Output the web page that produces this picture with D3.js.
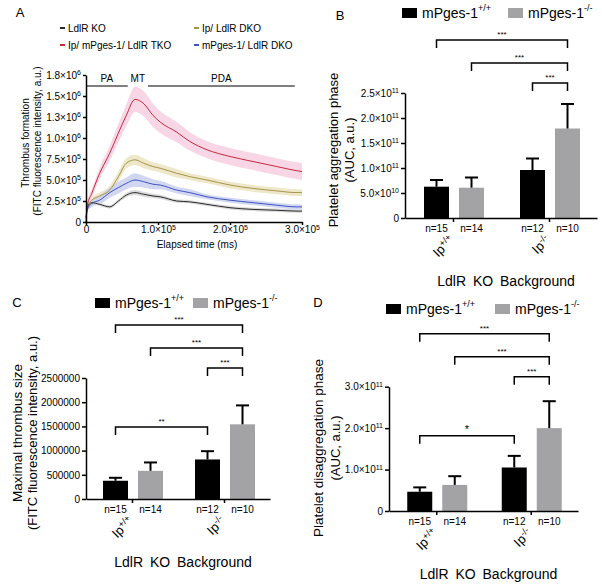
<!DOCTYPE html>
<html><head><meta charset="utf-8">
<script src="https://cdn.jsdelivr.net/npm/d3@7"></script>
<style>
body{margin:0;background:#fff}
svg{display:block;font-family:"Liberation Sans",Arial,sans-serif}
</style></head><body>
<svg id="chart" width="602" height="587"></svg>
<script>
// ================= DATA =================
// Panel A: thrombus formation time course (mean and SEM band), time in ms
const timeMs      = [0, 2000, 8000, 19000, 33000, 45000, 56000, 68000, 80000, 93000, 103000, 126000, 144000, 168000, 200000, 232000, 265000, 293000, 300000];
const ldlrKO      = [0, 1.8e5, 2.3e5, 2.1e5, 1.8e5, 2.5e5, 3.2e5, 3.5e5, 3.3e5, 3.1e5, 3.0e5, 2.5e5, 2.4e5, 2.1e5, 1.7e5, 1.5e5, 1.4e5, 1.3e5, 1.3e5];
const ldlrKOErr   = [1e4, 2e4, 2e4, 2e4, 2e4, 2e4, 2.5e4, 3e4, 3e4, 2.5e4, 2.5e4, 2e4, 2e4, 2e4, 2e4, 2e4, 2e4, 2e4, 2e4];
const ipDKO       = [5e4, 1.8e5, 2.6e5, 3.1e5, 3.8e5, 5.4e5, 7.0e5, 7.4e5, 7.0e5, 6.6e5, 6.4e5, 5.8e5, 5.4e5, 5.0e5, 4.4e5, 4.0e5, 3.7e5, 3.5e5, 3.5e5];
const ipDKOErr    = [1e4, 2e4, 3e4, 4e4, 5e4, 6e4, 6e4, 6e4, 6e4, 5e4, 5e4, 5e4, 4e4, 4e4, 4e4, 4e4, 4e4, 4e4, 4e4];
const mpgesDKO    = [5e4, 1.5e5, 2.2e5, 2.6e5, 3.5e5, 4.1e5, 4.6e5, 5.0e5, 4.8e5, 4.5e5, 4.4e5, 3.8e5, 3.5e5, 3.0e5, 2.6e5, 2.3e5, 2.0e5, 1.8e5, 1.8e5];
const mpgesDKOErr = [1e4, 2e4, 4e4, 5e4, 6e4, 7e4, 7e4, 8e4, 7e4, 6e4, 5e4, 4e4, 4e4, 3e4, 3e4, 3e4, 3e4, 3e4, 3e4];
const tko         = [5e4, 2.0e5, 3.4e5, 5.8e5, 8.2e5, 1.06e6, 1.27e6, 1.46e6, 1.41e6, 1.27e6, 1.19e6, 1.07e6, 9.6e5, 8.6e5, 7.8e5, 7.2e5, 6.6e5, 6.1e5, 6.0e5];
const tkoErr      = [2e4, 4e4, 5e4, 7e4, 9e4, 1.1e5, 1.3e5, 1.5e5, 1.5e5, 1.4e5, 1.3e5, 1.2e5, 1.1e5, 1.0e5, 1.0e5, 1.0e5, 1.0e5, 1.0e5, 1.0e5];
const seriesNamesA = ["LdlR KO", "Ip/ mPges-1/ LdlR TKO", "Ip/ LdlR DKO", "mPges-1/ LdlR DKO"];
const yTicksA  = [0, 2.5e5, 5e5, 7.5e5, 1e6, 1.25e6, 1.5e6, 1.75e6];
const yLabelsA = [["0"], ["2.5","5"], ["5.0","5"], ["7.5","5"], ["1.0","6"], ["1.3","6"], ["1.5","6"], ["1.8","6"]];
const xTicksA  = [0, 1e5, 2e5, 3e5];
const xLabelsA = [["0"], ["1.0","5"], ["2.0","5"], ["3.0","5"]];
const phaseNames = ["PA", "MT", "PDA"];
const phaseStart = [0, 72000, 86000];
const phaseEnd   = [58000, 72000, 290000];

// Bar panels (order: Ip+/+ mPges+/+, Ip+/+ mPges-/-, Ip-/- mPges+/+, Ip-/- mPges-/-)
const ipGroups   = ["+/+", "-/-"];
const mpgesKeys  = ["+/+", "-/-"];
const nLabels    = ["n=15", "n=14", "n=12", "n=10"];
const aggMean    = [6.26e10, 6.06e10, 9.6e10, 1.79e11];
const aggSem     = [1.34e10, 2.04e10, 2.3e10, 4.9e10];
const maxMean    = [3.77e5, 5.82e5, 8.17e5, 1.543e6];
const maxSem     = [6.1e4, 1.73e5, 1.71e5, 3.91e5];
const disMean    = [4.65e10, 6.3e10, 1.05e11, 2.0e11];
const disSem     = [1.05e10, 2.1e10, 2.8e10, 6.5e10];
const yTicksB  = [0, 5e10, 1e11, 1.5e11, 2e11, 2.5e11];
const yLabelsB = [["0"], ["5.0","10"], ["1.0","11"], ["1.5","11"], ["2.0","11"], ["2.5","11"]];
const yTicksC  = [0, 5e5, 1e6, 1.5e6, 2e6, 2.5e6];
const yLabelsC = [["0"], ["500000"], ["1000000"], ["1500000"], ["2000000"], ["2500000"]];
const yTicksD  = [0, 1e11, 2e11, 3e11];
const yLabelsD = [["0"], ["1.0","11"], ["2.0","11"], ["3.0","11"]];
// significance: [from bar, to bar, label, level]
const sigB = [[0,3,"***",0],[1,3,"***",1],[2,3,"***",2]];
const sigC = [[0,3,"***",0],[1,3,"***",1],[2,3,"***",2],[0,2,"**",3]];
const sigD = [[0,3,"***",0],[1,3,"***",1],[2,3,"***",2],[0,2,"*",3]];

// ================= DRAWING =================
const svg = d3.select("#chart");
svg.append("rect").attr("width",602).attr("height",587).attr("fill","#fff");
const FONT = '"Liberation Sans", Arial, sans-serif';

function sciText(sel, parts, supSize) {
  sel.text(null);
  if (parts.length === 1) { sel.append("tspan").text(parts[0]); return; }
  sel.append("tspan").text(parts[0] + "\u00d710");
  sel.append("tspan").attr("dy","-0.5em").attr("font-size", supSize).text(parts[1]);
}
function styleAxis(g, w) {
  g.select(".domain").attr("stroke","#000").attr("stroke-width", w);
  g.selectAll(".tick line").attr("stroke","#000").attr("stroke-width", w);
  g.selectAll(".tick text").attr("fill","#000").attr("font-family", FONT);
}
function letter(t, x, y) {
  svg.append("text").attr("x",x).attr("y",y).attr("font-size",13).attr("text-anchor","middle")
    .attr("dominant-baseline","central").text(t);
}

// ---------- Panel A ----------
(function(){
  const x = d3.scaleLinear().domain([0,3e5]).range([86,302]);
  const y = d3.scaleLinear().domain([0,1.75e6]).range([222,75]);
  const g = svg.append("g");
  const styles = [
    {line:"#2a2a2a", band:"#d4d4d4"},
    {line:"#c62a3c", band:"#f8cfe0"},
    {line:"#a59548", band:"#ebe3bf"},
    {line:"#3f52bf", band:"#c9d0f1"}
  ];
  const data = [
    {v:ldlrKO, e:ldlrKOErr}, {v:tko, e:tkoErr}, {v:ipDKO, e:ipDKOErr}, {v:mpgesDKO, e:mpgesDKOErr}
  ].map((s,i)=>({name:seriesNamesA[i], pts: timeMs.map((t,j)=>({t, v:s.v[j], e:s.e[j]})), st:styles[i]}));
  const drawOrder = [1,2,3,0];
  const area = d3.area().x(d=>x(d.t)).y0(d=>y(Math.max(0,d.v-d.e))).y1(d=>y(d.v+d.e)).curve(d3.curveMonotoneX);
  const line = d3.line().x(d=>x(d.t)).y(d=>y(d.v)).curve(d3.curveMonotoneX);
  drawOrder.forEach(i=>{
    g.append("path").attr("d", area(data[i].pts)).attr("fill", data[i].st.band).attr("opacity",0.85);
  });
  drawOrder.forEach(i=>{
    g.append("path").attr("d", line(data[i].pts)).attr("fill","none").attr("stroke", data[i].st.line).attr("stroke-width",1);
  });
  // axes
  const ya = g.append("g").attr("transform","translate(86,0)")
    .call(d3.axisLeft(y).tickValues(yTicksA).tickSize(3).tickSizeOuter(0).tickPadding(2));
  styleAxis(ya, 1.5);
  ya.selectAll(".tick text").attr("font-size",10).each(function(d,i){ sciText(d3.select(this), yLabelsA[i], 7); });
  const xa = g.append("g").attr("transform","translate(0,222)")
    .call(d3.axisBottom(x).tickValues(xTicksA).tickSize(3).tickSizeOuter(0).tickPadding(1));
  styleAxis(xa, 1.5);
  xa.selectAll(".tick text").attr("font-size",10).each(function(d,i){ sciText(d3.select(this), xLabelsA[i], 7); });
  // axis titles
  g.append("text").attr("x",197).attr("y",244).attr("font-size",10).attr("text-anchor","middle")
    .attr("dominant-baseline","central").text("Elapsed time (ms)");
  g.append("text").attr("transform","translate(25,143) rotate(-90)").attr("font-size",10)
    .attr("text-anchor","middle").attr("dominant-baseline","central").text("Thrombus formation");
  g.append("text").attr("transform","translate(37,141) rotate(-90)").attr("font-size",10)
    .attr("text-anchor","middle").attr("dominant-baseline","central").text("(FITC fluorescence intensity, a.u.)");
  // phases
  phaseNames.forEach((p,i)=>{
    if (phaseEnd[i] > phaseStart[i]) {
      g.append("line").attr("x1",x(phaseStart[i])).attr("x2",x(phaseEnd[i])).attr("y1",86).attr("y2",86)
        .attr("stroke","#000").attr("stroke-width",1);
    }
    g.append("text").attr("x",(x(phaseStart[i])+x(phaseEnd[i]))/2).attr("y",78).attr("font-size",10)
      .attr("text-anchor","middle").attr("dominant-baseline","central").text(p);
  });
  // legend
  const legPos = [[60,28],[60,45],[194,28],[194,45]];
  data.forEach((s,i)=>{
    g.append("line").attr("x1",legPos[i][0]).attr("x2",legPos[i][0]+5).attr("y1",legPos[i][1]).attr("y2",legPos[i][1])
      .attr("stroke", s.st.line).attr("stroke-width",2);
    g.append("text").attr("x",legPos[i][0]+8).attr("y",legPos[i][1]).attr("font-size",10)
      .attr("dominant-baseline","central").text(s.name);
  });
  letter("A", 20, 12);
})();

// ---------- Bar panels ----------
function barPanel(cfg) {
  const g = svg.append("g");
  const gx = d3.scalePoint().domain(ipGroups).range([cfg.x0, cfg.x1]).padding(0.5);
  const sub = d3.scaleBand().domain(mpgesKeys).range([-30,30]).paddingInner(0.286).paddingOuter(0);
  const y = d3.scaleLinear().domain([0, cfg.yMax]).range([cfg.yBottom, cfg.yTop]);
  const bars = [];
  ipGroups.forEach((ip,gi)=>mpgesKeys.forEach((mk,si)=>{
    const k = gi*2+si;
    bars.push({ip, mk, si, mean:cfg.mean[k], sem:cfg.sem[k], n:nLabels[k], cx: gx(ip)+sub(mk)+sub.bandwidth()/2+1});
  }));
  const fills = ["#000000", "#a3a3a6"];
  g.selectAll("rect.bar").data(bars).join("rect")
    .attr("x", d=>d.cx - sub.bandwidth()/2).attr("width", sub.bandwidth())
    .attr("y", d=>y(d.mean)).attr("height", d=>y(0)-y(d.mean)).attr("fill", d=>fills[d.si]);
  // error bars
  bars.forEach(d=>{
    g.append("line").attr("x1",d.cx).attr("x2",d.cx).attr("y1",y(d.mean)).attr("y2",y(d.mean+d.sem))
      .attr("stroke","#000").attr("stroke-width",2);
    g.append("line").attr("x1",d.cx-6.5).attr("x2",d.cx+6.5).attr("y1",y(d.mean+d.sem)).attr("y2",y(d.mean+d.sem))
      .attr("stroke","#000").attr("stroke-width",2);
  });
  // axes
  const ya = g.append("g").attr("transform",`translate(${cfg.x0},0)`)
    .call(d3.axisLeft(y).tickValues(cfg.ticks).tickSize(4).tickSizeOuter(0).tickPadding(2));
  styleAxis(ya, 1.5);
  ya.selectAll(".tick text").attr("font-size",10).each(function(d,i){ sciText(d3.select(this), cfg.labels[i], 7); });
  const xa = g.append("g").attr("transform",`translate(0,${cfg.yBottom})`)
    .call(d3.axisBottom(gx).tickSize(4).tickSizeOuter(0).tickFormat(""));
  styleAxis(xa, 1.5);
  // n labels
  bars.forEach(d=>{
    g.append("text").attr("x",d.cx).attr("y",cfg.yBottom+10).attr("font-size",10).attr("text-anchor","middle")
      .attr("dominant-baseline","central").text(d.n);
  });
  // rotated genotype labels
  ipGroups.forEach(ip=>{
    const t = g.append("text").attr("transform",`translate(${gx(ip)+2},${cfg.yBottom+23}) rotate(-45)`)
      .attr("font-size",13).attr("text-anchor","end");
    t.append("tspan").text("Ip");
    t.append("tspan").attr("dy","-0.5em").attr("font-size",9).text(ip);
  });
  g.append("text").attr("x",(cfg.x0+cfg.x1)/2+5).attr("y",cfg.yBottom+63).attr("font-size",14)
    .attr("text-anchor","middle").attr("dominant-baseline","central").attr("word-spacing",3).text("LdlR KO Background");
  // y titles
  cfg.titles.forEach((t,i)=>{
    g.append("text").attr("transform",`translate(${cfg.titleX[i]},${cfg.titleY}) rotate(-90)`).attr("font-size",cfg.titleSize[i])
      .attr("text-anchor","middle").attr("dominant-baseline","central").text(t);
  });
  // significance brackets
  const levelOff = [-53,-30,-10,cfg.lowLevel];
  cfg.sig.forEach(s=>{
    const xa1 = bars[s[0]].cx, xb = bars[s[1]].cx, yy = cfg.yTop + levelOff[s[3]];
    g.append("path").attr("d",`M${xa1},${yy+8}V${yy}H${xb}V${yy+8}`).attr("fill","none")
      .attr("stroke","#000").attr("stroke-width",1.5);
    g.append("text").attr("x",(xa1+xb)/2).attr("y",yy-3).attr("font-size",s[2].length===1?11:8)
      .attr("text-anchor","middle").text(s[2]);
  });
  // legend
  mpgesKeys.forEach((mk,i)=>{
    g.append("rect").attr("x",cfg.legX[i]).attr("y",cfg.legY).attr("width",15).attr("height",10).attr("fill",fills[i]);
    const t = g.append("text").attr("x",cfg.legX[i]+20).attr("y",cfg.legY+5).attr("font-size",14)
      .attr("dominant-baseline","central");
    t.append("tspan").text("mPges-1");
    t.append("tspan").attr("dy","-0.55em").attr("font-size",9).text(mk);
  });
  letter(cfg.letter, cfg.letterX, cfg.letterY);
}

barPanel({letter:"B", letterX:340, letterY:15, x0:405, x1:597, yBottom:218, yTop:93, yMax:2.5e11,
  mean:aggMean, sem:aggSem, ticks:yTicksB, labels:yLabelsB, sig:sigB, lowLevel:0,
  titles:["Platelet aggregation phase","(AUC, a.u.)"], titleX:[333,349], titleY:150, titleSize:[13,13],
  legX:[402,508], legY:8});
barPanel({letter:"C", letterX:17, letterY:302, x0:86, x1:270, yBottom:499, yTop:378, yMax:2.5e6,
  mean:maxMean, sem:maxSem, ticks:yTicksC, labels:yLabelsC, sig:sigC, lowLevel:49,
  titles:["Maximal thrombus size","(FITC fluorescence intensity, a.u.)"], titleX:[17,32], titleY:433, titleSize:[13.5,13],
  legX:[95,193], legY:298});
barPanel({letter:"D", letterX:318, letterY:302, x0:389, x1:578, yBottom:511, yTop:386.7, yMax:3e11,
  mean:disMean, sem:disSem, ticks:yTicksD, labels:yLabelsD, sig:sigD, lowLevel:49,
  titles:["Platelet disaggregation phase","(AUC, a.u.)"], titleX:[318,335], titleY:448, titleSize:[13.5,13],
  legX:[386,495], legY:304});
</script>
</body></html>
